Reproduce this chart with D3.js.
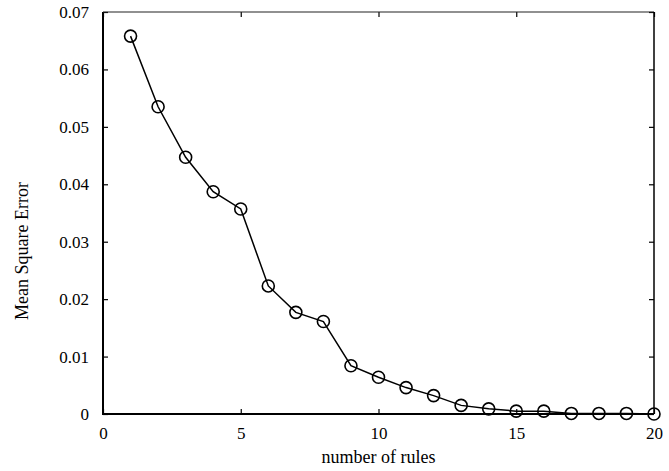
<!DOCTYPE html>
<html>
<head>
<meta charset="utf-8">
<script src="https://cdn.jsdelivr.net/npm/d3@7"></script>
<style>
  body { margin: 0; background: #fff; }
  svg { display: block; font-family: "Liberation Serif", "Times New Roman", serif; }
</style>
</head>
<body>
<svg id="chart" width="669" height="471"></svg>
<script>
// number of rules vs. mean square error
var rules = [1, 2, 3, 4, 5, 6, 7, 8, 9, 10, 11, 12, 13, 14, 15, 16, 17, 18, 19, 20];
var mse = [0.0658, 0.0535, 0.0447, 0.0387, 0.0357, 0.0223, 0.0177, 0.0161, 0.0084, 0.0064,
           0.0046, 0.0032, 0.0015, 0.0009, 0.0005, 0.0005, 0.0001, 0.0001, 0.0001, 0.0000];
var xTicks = [0, 5, 10, 15, 20];
var yTicks = [0, 0.01, 0.02, 0.03, 0.04, 0.05, 0.06, 0.07];

var width = 669, height = 471;
var margin = {top: 12, right: 15, bottom: 57, left: 103};

var svg = d3.select("#chart");

var x = d3.scaleLinear().domain([0, 20]).range([margin.left, width - margin.right]);
var y = d3.scaleLinear().domain([0, 0.07]).range([height - margin.bottom, margin.top]);

var fmtY = function(d) { return d === 0 ? "0" : d3.format(".2f")(d); };

// bottom + top ticks (pointing inward)
svg.append("g")
  .attr("transform", "translate(0," + y(0) + ")")
  .call(d3.axisBottom(x).tickValues(xTicks).tickSize(-5).tickPadding(13))
  .call(g => g.select(".domain").remove());

svg.append("g")
  .attr("transform", "translate(0," + y(0.07) + ")")
  .call(d3.axisTop(x).tickValues(xTicks).tickSize(-5).tickFormat(""))
  .call(g => g.select(".domain").remove());

// left + right ticks
svg.append("g")
  .attr("transform", "translate(" + x(0) + ",0)")
  .call(d3.axisLeft(y).tickValues(yTicks).tickFormat(fmtY).tickSize(-5).tickPadding(14))
  .call(g => g.select(".domain").remove());

svg.append("g")
  .attr("transform", "translate(" + x(20) + ",0)")
  .call(d3.axisRight(y).tickValues(yTicks).tickSize(-5).tickFormat(""))
  .call(g => g.select(".domain").remove());

svg.selectAll(".tick line").attr("stroke", "#000").attr("stroke-width", 1.2);
svg.selectAll(".tick text")
  .attr("fill", "#000")
  .style("font-family", "'Liberation Serif', 'Times New Roman', serif")
  .style("font-size", "17px");

// frame: left/bottom heavier than top/right
svg.append("line")
  .attr("x1", x(0)).attr("x2", x(0)).attr("y1", y(0.07)).attr("y2", y(0) + 1)
  .attr("stroke", "#000").attr("stroke-width", 2);
svg.append("line")
  .attr("x1", x(0) - 1).attr("x2", x(20)).attr("y1", y(0)).attr("y2", y(0))
  .attr("stroke", "#000").attr("stroke-width", 2.2);
svg.append("line")
  .attr("x1", x(0)).attr("x2", x(20)).attr("y1", y(0.07)).attr("y2", y(0.07))
  .attr("stroke", "#222").attr("stroke-width", 1.2);
svg.append("line")
  .attr("x1", x(20)).attr("x2", x(20)).attr("y1", y(0.07)).attr("y2", y(0))
  .attr("stroke", "#000").attr("stroke-width", 1.5);

var pts = rules.map((r, i) => ({r: r, v: mse[i]}));

svg.append("path")
  .datum(pts)
  .attr("fill", "none")
  .attr("stroke", "#000")
  .attr("stroke-width", 1.5)
  .attr("d", d3.line().x(d => x(d.r)).y(d => y(d.v)));

svg.append("g")
  .selectAll("circle")
  .data(pts)
  .enter()
  .append("circle")
  .attr("cx", d => x(d.r))
  .attr("cy", d => y(d.v))
  .attr("r", 6)
  .attr("fill", "none")
  .attr("stroke", "#000")
  .attr("stroke-width", 1.6);

// axis titles
svg.append("text")
  .attr("x", (x(0) + x(20)) / 2)
  .attr("y", 463)
  .attr("text-anchor", "middle")
  .style("font-size", "18px")
  .text("number of rules");

svg.append("text")
  .attr("transform", "translate(28,251) rotate(-90)")
  .attr("text-anchor", "middle")
  .style("font-size", "18px")
  .text("Mean Square Error");
</script>
</body>
</html>
